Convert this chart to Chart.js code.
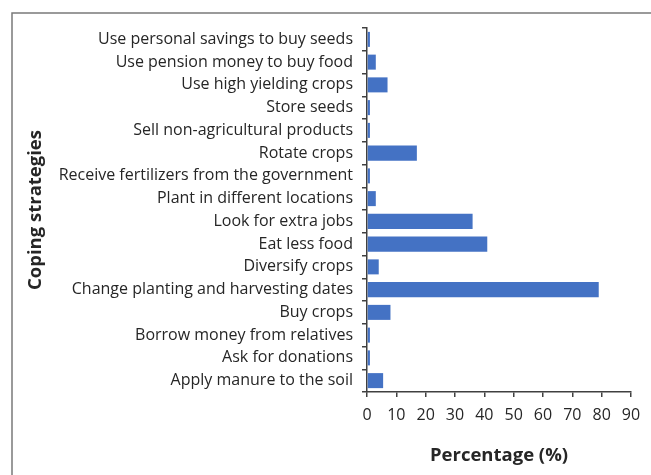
<!DOCTYPE html>
<html>
<head>
<meta charset="utf-8">
<script src="https://cdn.jsdelivr.net/npm/chart.js@4/dist/chart.umd.min.js"></script>
<style>
  html, body { margin: 0; padding: 0; background: #fff; }
  #wrap { position: relative; width: 651px; height: 475px; }
</style>
</head>
<body>
<div id="wrap"><canvas id="c" width="651" height="475"></canvas></div>
<script>
const categories = [
  "Use personal savings to buy seeds",
  "Use pension money to buy food",
  "Use high yielding crops",
  "Store seeds",
  "Sell non-agricultural products",
  "Rotate crops",
  "Receive fertilizers from the government",
  "Plant in different locations",
  "Look for extra jobs",
  "Eat less food",
  "Diversify crops",
  "Change planting and harvesting dates",
  "Buy crops",
  "Borrow money from relatives",
  "Ask for donations",
  "Apply manure to the soil"
];
const percentages = [1, 3, 7, 1, 1, 17, 1, 3, 36, 41, 4, 79, 8, 1, 1, 5.5];
const xTicks = [0, 10, 20, 30, 40, 50, 60, 70, 80, 90];
const xTitle = "Percentage (%)";
const yTitle = "Coping strategies";

const FONT = "'Open Sans', sans-serif";
const AXIS = "#404040";
const TEXT = "#262626";

const framePlugin = {
  id: 'frame',
  beforeDraw(chart) {
    const ctx = chart.ctx;
    ctx.save();
    ctx.fillStyle = '#fff';
    ctx.fillRect(0, 0, chart.width, chart.height);
    ctx.strokeStyle = '#7a7a7a';
    ctx.lineWidth = 1.5;
    ctx.beginPath();
    ctx.moveTo(12, chart.height);
    ctx.lineTo(12, 13);
    ctx.lineTo(chart.width, 13);
    ctx.stroke();
    ctx.restore();
  }
};

new Chart(document.getElementById('c'), {
  type: 'bar',
  data: {
    labels: categories,
    datasets: [{
      data: percentages,
      backgroundColor: '#4472C4',
      borderWidth: 0,
      barPercentage: 0.66,
      categoryPercentage: 1.0
    }]
  },
  options: {
    indexAxis: 'y',
    responsive: false,
    animation: false,
    devicePixelRatio: 1,
    layout: { padding: { left: 0, right: 20, top: 28, bottom: 0 } },
    plugins: { legend: { display: false }, tooltip: { enabled: false } },
    scales: {
      x: {
        min: 0, max: 90,
        afterBuildTicks(scale) { scale.ticks = xTicks.map(v => ({ value: v })); },
        afterFit(scale) { scale.height = 83; },
        ticks: { color: TEXT, font: { family: FONT, size: 16 }, padding: 9, maxRotation: 0 },
        grid: { drawOnChartArea: false, drawTicks: true, tickLength: 5, color: AXIS, lineWidth: 1.5 },
        border: { color: AXIS, width: 1.5 },
        title: { display: true, text: xTitle, color: TEXT, font: { family: FONT, size: 18.5, weight: 'bold' }, padding: { top: 0, bottom: 8 } }
      },
      y: {
        afterFit(scale) { scale.width = 367; },
        ticks: { color: TEXT, font: { family: FONT, size: 16 }, padding: 9, autoSkip: false },
        grid: { drawOnChartArea: false, drawTicks: true, tickLength: 5, color: AXIS, lineWidth: 1.5, offset: true },
        border: { color: AXIS, width: 1.5 },
        title: { display: true, text: yTitle, color: TEXT, font: { family: FONT, size: 18.5, weight: 'bold' }, padding: { top: 25, bottom: 0 } }
      }
    }
  },
  plugins: [framePlugin]
});
</script>
</body>
</html>
